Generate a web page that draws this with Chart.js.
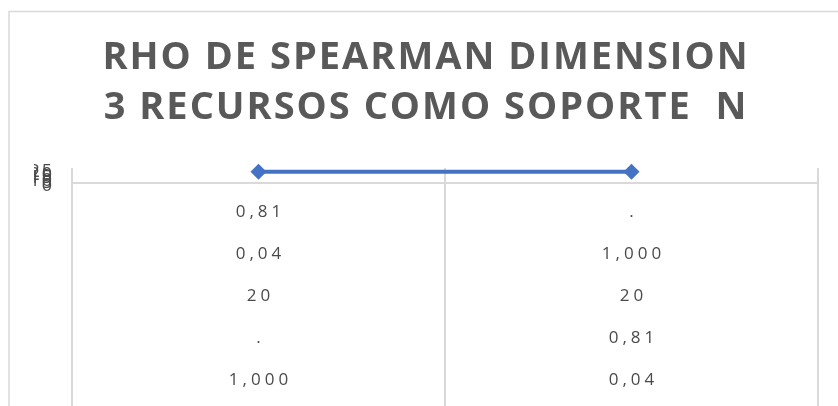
<!DOCTYPE html>
<html>
<head>
<meta charset="utf-8">
<script src="https://cdn.jsdelivr.net/npm/chart.js@4.4.1/dist/chart.umd.min.js"></script>
<style>
  html, body { margin: 0; padding: 0; background: #ffffff; }
  #wrap { width: 838px; height: 406px; }
</style>
</head>
<body>
<div id="wrap"><canvas id="c" width="838" height="406"></canvas></div>
<script>
const titleLines = ['RHO DE SPEARMAN DIMENSION', '3 RECURSOS COMO SOPORTE  N'];
const categories = ['Columna 1', 'Columna 2'];
const nValues = [20, 20];
const yTickValues = [0, 5, 10, 15, 20, 25];
const tableColumn1 = ['0,81', '0,04', '20', '.', '1,000'];
const tableColumn2 = ['.', '1,000', '20', '0,81', '0,04'];
const tableColumns = [tableColumn1, tableColumn2];

const GRAY_LINE = '#d9d9d9';
const TEXT = '#595959';
const TABLE_TEXT = '#4a4a4a';

const framePlugin = {
  id: 'frame',
  beforeDraw(chart) {
    const ctx = chart.ctx;
    ctx.save();
    ctx.fillStyle = '#ffffff';
    ctx.fillRect(0, 0, chart.width, chart.height);
    ctx.strokeStyle = GRAY_LINE;
    ctx.lineWidth = 1.5;
    ctx.strokeRect(9, 11.5, chart.width + 20, chart.height + 20);
    ctx.restore();
    ctx.letterSpacing = '2px';
  },
  beforeDatasetsDraw(chart) {
    const ctx = chart.ctx;
    const x = chart.scales.x;
    const area = chart.chartArea;
    const centers = categories.map((c, i) => x.getPixelForValue(i));
    const bounds = [area.left];
    for (let i = 0; i < centers.length - 1; i++) bounds.push((centers[i] + centers[i + 1]) / 2);
    bounds.push(area.right);
    ctx.save();
    ctx.strokeStyle = GRAY_LINE;
    ctx.lineWidth = 2;
    ctx.beginPath();
    ctx.moveTo(area.left, area.bottom);
    ctx.lineTo(area.right, area.bottom);
    bounds.forEach(b => {
      ctx.moveTo(b, area.top - 1);
      ctx.lineTo(b, chart.height);
    });
    ctx.stroke();
    ctx.restore();
  },
  afterDatasetsDraw(chart) {
    chart.ctx.letterSpacing = '4px';
  },
  afterDraw(chart) {
    const ctx = chart.ctx;
    const x = chart.scales.x;
    const area = chart.chartArea;
    ctx.save();
    ctx.letterSpacing = '4px';
    ctx.fillStyle = TABLE_TEXT;
    ctx.font = '500 17px "Open Sans"';
    ctx.textAlign = 'center';
    ctx.textBaseline = 'middle';
    tableColumns.forEach((col, ci) => {
      const cx = x.getPixelForValue(ci);
      col.forEach((val, ri) => {
        ctx.fillText(val, cx + 2, area.bottom + 29 + 42 * ri);
      });
    });
    ctx.restore();
    ctx.letterSpacing = '0px';
  }
};

new Chart(document.getElementById('c'), {
  type: 'line',
  data: {
    labels: categories,
    datasets: [{
      label: 'N',
      data: nValues,
      borderColor: '#4472C4',
      backgroundColor: '#4472C4',
      borderWidth: 4,
      pointStyle: 'rectRot',
      pointRadius: 8,
      pointHoverRadius: 8,
      pointBackgroundColor: '#4472C4',
      pointBorderColor: '#4472C4',
      pointBorderWidth: 0,
      clip: false,
      tension: 0
    }]
  },
  options: {
    responsive: false,
    animation: false,
    devicePixelRatio: 1,
    layout: { padding: { left: 34, right: 20, top: 0, bottom: 223 } },
    plugins: {
      legend: { display: false },
      tooltip: { enabled: false },
      title: {
        display: true,
        text: titleLines,
        color: TEXT,
        font: { family: '"Open Sans"', size: 38, weight: 'bold', lineHeight: 50 / 38 },
        padding: { top: 33, bottom: 36 }
      }
    },
    scales: {
      x: {
        display: false,
        offset: true
      },
      y: {
        min: 0,
        max: 25,
        z: 1,
        afterFit(scale) { scale.width = 38; },
        afterBuildTicks(scale) { scale.ticks = yTickValues.map(v => ({ value: v })); },
        grid: { display: false, drawTicks: false },
        border: { display: false },
        ticks: {
          autoSkip: false,
          padding: 18,
          labelOffset: 3,
          color: TABLE_TEXT,
          font: { family: '"Open Sans"', size: 18, weight: '500' },
          callback: v => String(v)
        }
      }
    }
  },
  plugins: [framePlugin]
});
</script>
</body>
</html>
